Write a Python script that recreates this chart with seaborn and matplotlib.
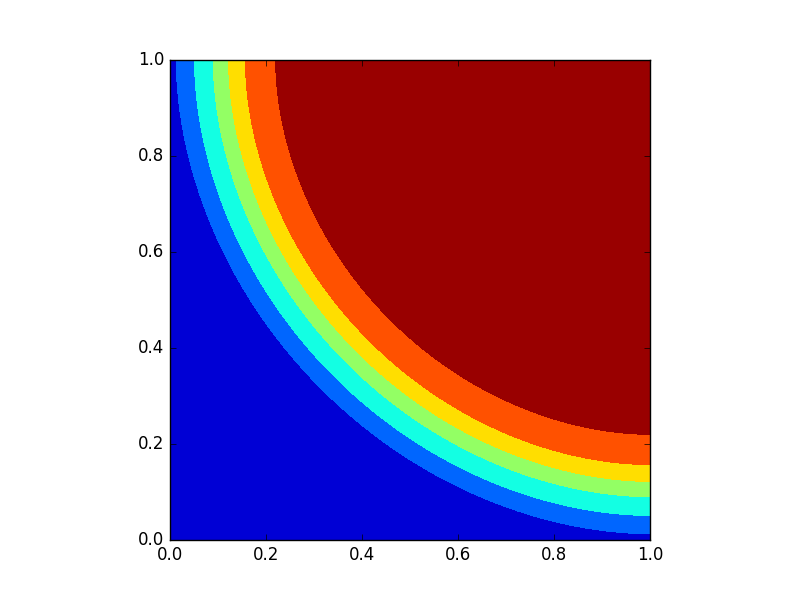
import numpy as np
import matplotlib
matplotlib.use('Agg')
import matplotlib.pyplot as plt
import seaborn as sns

# distance-like levels (from corner (1, 1)) where bands change, inner to outer
levels = [0.0, 0.782, 0.845, 0.88, 0.912, 0.951, 0.989, 2.0]
band_colors = ['#990000', '#ff5100', '#ffde00', '#93ff64', '#13ffe3', '#0066ff', '#0000d5']
ticks = [0.0, 0.2, 0.4, 0.6, 0.8, 1.0]
shape_power = 1.9

plt.style.use('classic')

# grid over the unit square
x = np.linspace(0, 1, 300)
y = np.linspace(0, 1, 300)
X, Y = np.meshgrid(x, y)
Z = ((1 - X) ** shape_power + (1 - Y) ** shape_power) ** (1 / shape_power)

fig, ax = plt.subplots(figsize=(8, 6), dpi=100)
ax.contourf(X, Y, Z, levels=levels, colors=sns.color_palette(band_colors))

ax.set_xlim(0, 1)
ax.set_ylim(0, 1)
ax.set_xticks(ticks)
ax.set_yticks(ticks)
ax.set_aspect('equal')

plt.savefig('out.png', dpi=100)
plt.close()
